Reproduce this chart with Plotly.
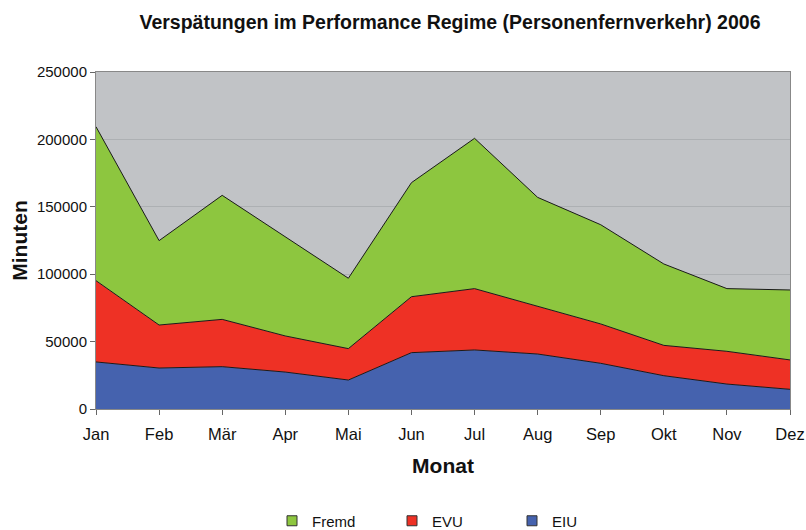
import plotly.graph_objects as go

months = ["Jan", "Feb", "Mär", "Apr", "Mai", "Jun", "Jul", "Aug", "Sep", "Okt", "Nov", "Dez"]
eiu = [34900, 30400, 31400, 27400, 21500, 41800, 43800, 40800, 33900, 24700, 18500, 14600]
evu = [60300, 31900, 35100, 26800, 23300, 41500, 45500, 35600, 29200, 22500, 24300, 21800]
fremd = [114200, 62600, 92000, 73600, 52200, 84600, 111500, 80600, 73600, 60400, 46500, 51900]
y_ticks = [0, 50000, 100000, 150000, 200000, 250000]

font_family = "Liberation Sans, Arial, sans-serif"
series = [("EIU", eiu, "#4562ae"), ("EVU", evu, "#ee3125"), ("Fremd", fremd, "#8dc63f")]

fig = go.Figure()
for name, vals, color in series:
    fig.add_trace(go.Scatter(
        x=months, y=vals, name=name, mode="lines", stackgroup="one",
        line=dict(color="#1a1a1a", width=1), fillcolor=color, showlegend=False,
    ))
# legend entries with small square keys
for name, vals, color in series:
    fig.add_trace(go.Scatter(
        x=[None], y=[None], name=name, mode="markers",
        marker=dict(symbol="square", size=10, color=color, line=dict(color="#333", width=1)),
        showlegend=True,
    ))

fig.update_layout(
    width=806, height=530,
    margin=dict(l=96, r=16, t=72, b=121, autoexpand=False),
    paper_bgcolor="white", plot_bgcolor="#c1c3c6",
    font=dict(family=font_family, color="#111111"),
    title=dict(text="<b>Verspätungen im Performance Regime (Personenfernverkehr) 2006</b>",
               x=450 / 806, xanchor="center", y=1 - 22 / 530, yanchor="middle",
               font=dict(size=19.5, family=font_family, color="#111111")),
    showlegend=True,
    legend=dict(orientation="h", x=(272 - 96) / 694, xanchor="left", y=(409 - 521) / 337, yanchor="middle",
                traceorder="reversed", font=dict(size=15), entrywidth=75,
                bgcolor="rgba(0,0,0,0)"),
    xaxis=dict(range=[0, 11], showgrid=False, ticks="outside", ticklen=5, tickcolor="#666",
               showline=True, linecolor="#888", mirror=True, tickfont=dict(size=16.5),
               automargin=False, ticklabelstandoff=5,
               title=dict(text="<b>Monat</b>", font=dict(size=21), standoff=16)),
    yaxis=dict(range=[0, 250000], tickvals=y_ticks, tickformat="d", showgrid=True,
               gridcolor="#adb0b3", gridwidth=1, ticks="outside", ticklen=5, tickcolor="#666",
               showline=True, linecolor="#888", mirror=True, tickfont=dict(size=15),
               zeroline=False, automargin=False,
               title=dict(text="<b>Minuten</b>", font=dict(size=21), standoff=3)),
)

fig.write_html("out.html", config={"displayModeBar": False},
               post_script="document.body.style.margin='0';")
